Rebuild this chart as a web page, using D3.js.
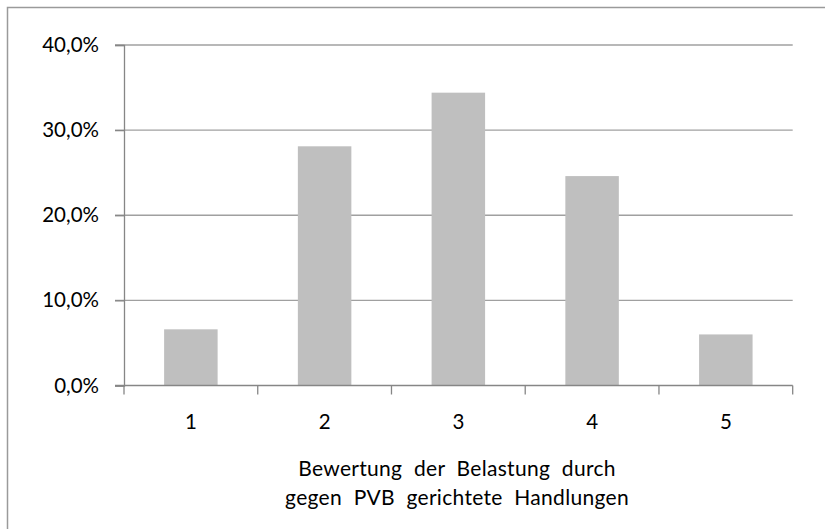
<!DOCTYPE html>
<html><head><meta charset="utf-8">
<script src="https://cdn.jsdelivr.net/npm/d3@7"></script>
<style>body{margin:0;background:#fff}svg{display:block}text{font-family:Lato,"Open Sans",sans-serif;fill:#000}</style>
</head><body>
<script>
const categories = ["1","2","3","4","5"];
const values = [6.6, 28.1, 34.4, 24.6, 6.0];
const yTicks = [0, 10, 20, 30, 40];
const xTitle = ["Bewertung der Belastung durch", "gegen PVB gerichtete Handlungen"];

(function(){
const W = 825, H = 529;
const svg = d3.select("body").append("svg").attr("width", W).attr("height", H);

svg.append("path").attr("d", `M7.5,${H}V7.5H${W}`).attr("fill","none").attr("stroke","#9a9a9a").attr("stroke-width",1.5);

const pL = 124, pR = 792.7, pT = 45, pB = 385.5;
const x = d3.scaleBand().domain(categories).range([pL, pR]).paddingInner(0.6).paddingOuter(0.3);
const y = d3.scaleLinear().domain([0, 40]).range([pB, pT]);

// gridlines
svg.append("g").selectAll("line").data(yTicks.filter(d => d > 0)).join("line")
  .attr("x1", pL - 9).attr("x2", pR).attr("y1", d => y(d)).attr("y2", d => y(d))
  .attr("stroke", "#a0a0a0").attr("stroke-width", 1.3);

// bars
svg.append("g").selectAll("rect").data(values).join("rect")
  .attr("x", (d, i) => x(categories[i])).attr("width", x.bandwidth())
  .attr("y", d => y(d)).attr("height", d => y(0) - y(d)).attr("fill", "#bfbfbf");

// y axis
const yAxis = svg.append("g").attr("transform", `translate(${pL},0)`)
  .call(d3.axisLeft(y).tickValues(yTicks).tickSize(9).tickPadding(16)
  .tickFormat(d => d3.format(".1f")(d).replace(".", ",") + "%"));
yAxis.select(".domain").attr("stroke", "#868686").attr("stroke-width", 1.3);
yAxis.selectAll(".tick line").attr("stroke", "#868686").attr("stroke-width", 1.3);
yAxis.selectAll("text").attr("font-size", 20.5).attr("font-family", "Lato").attr("fill","#000");

// x axis
const xb = d3.scaleLinear().domain([0, categories.length]).range([pL, pR]);
const xAxisG = svg.append("g").attr("transform", `translate(0,${pB})`);
xAxisG.append("line").attr("x1", pL - 9).attr("x2", pR).attr("stroke", "#868686").attr("stroke-width", 1.3);
xAxisG.selectAll(".tk").data(d3.range(categories.length + 1)).join("line").attr("class","tk")
  .attr("x1", d => xb(d)).attr("x2", d => xb(d)).attr("y1", 0).attr("y2", 9)
  .attr("stroke", "#868686").attr("stroke-width", 1.3);
xAxisG.selectAll("text").data(categories).join("text")
  .attr("x", d => x(d) + x.bandwidth() / 2).attr("y", 43).attr("text-anchor", "middle")
  .attr("font-size", 20.5).text(d => d);

svg.append("g").selectAll("text").data(xTitle).join("text")
  .attr("x", 457).attr("y", (d, i) => 476 + i * 29).attr("text-anchor", "middle")
  .attr("font-size", 21).attr("word-spacing", 6).attr("letter-spacing", 0.3).text(d => d);
})();
</script>
</body></html>
